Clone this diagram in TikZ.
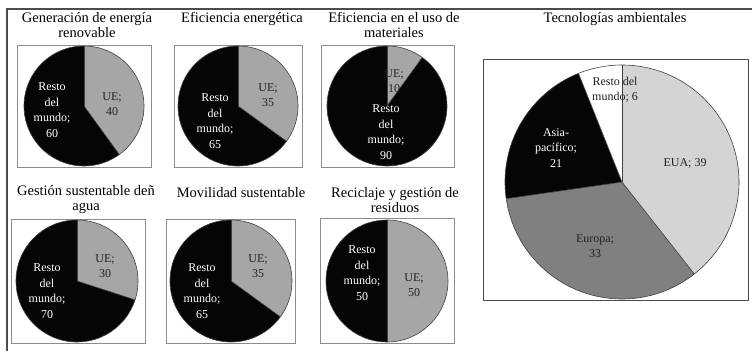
\documentclass[tikz,border=0pt]{standalone}
\usepackage{fontspec}
\setmainfont{Liberation Serif}
\definecolor{uegray}{HTML}{A6A6A6}
\definecolor{restblk}{HTML}{050505}
\definecolor{boxline}{HTML}{8C8C8C}
\definecolor{eualight}{HTML}{D4D4D4}
\definecolor{europagray}{HTML}{808080}
\definecolor{txtdark}{HTML}{222222}
\tikzset{
  boxframe/.style={draw=boxline,line width=0.9pt},
  pieline/.style={draw=black!75,line width=0.6pt},
  ttl/.style={font=\fontsize{14.5}{15}\selectfont,align=center,inner sep=0pt,text=black},
  lblw/.style={font=\fontsize{12}{15.5}\selectfont,align=center,inner sep=0pt,text=white},
  lbld/.style={font=\fontsize{12}{15.5}\selectfont,align=center,inner sep=0pt,text=txtdark},
}
\newcommand\uepie[4]{% cx, cy, r, UE value
  \pgfmathsetmacro\endang{90-3.6*#4}
  \fill[uegray] (#1,-#2) -- ++(90:#3) arc[start angle=90,end angle=\endang,radius=#3] -- cycle;
  \fill[restblk] (#1,-#2) -- ++(\endang:#3) arc[start angle=\endang,end angle=-270,radius=#3] -- cycle;
  \draw[pieline] (#1,-#2) circle[radius=#3];
  \draw[pieline] (#1,-#2) -- ++(90:#3);
  \draw[pieline] (#1,-#2) -- ++(\endang:#3);
}
\begin{document}
\begin{tikzpicture}[x=1pt,y=1pt]
\useasboundingbox (0,0) rectangle (752,-351);
% outer frame
\draw[draw=black!70,line width=1.2pt] (7,-351) -- (7,-9) -- (752,-9);

% small chart frames
\draw[boxframe] (17,-45) rectangle (151,-167);
\draw[boxframe] (174,-45) rectangle (302,-167);
\draw[boxframe] (321,-45) rectangle (454,-167);
\draw[boxframe] (11,-219) rectangle (145,-343);
\draw[boxframe] (166,-219) rectangle (295,-343);
\draw[boxframe] (320,-218) rectangle (454,-343);
% big chart frame
\draw[boxframe,draw=black!70] (483,-59) rectangle (748,-300);

% small pies
\uepie{84}{106}{60}{40}
\uepie{238}{106}{60}{35}
\uepie{387}{106}{60}{10}
\uepie{77}{281}{61}{30}
\uepie{231}{281}{61}{35}
\uepie{387}{281}{61}{50}

% big pie
\fill[eualight] (622,-182) -- ++(90:117) arc[start angle=90,end angle=-51.82,radius=117] -- cycle;
\fill[europagray] (622,-182) -- ++(-51.82:117) arc[start angle=-51.82,end angle=-171.82,radius=117] -- cycle;
\fill[restblk] (622,-182) -- ++(-171.82:117) arc[start angle=-171.82,end angle=-248.18,radius=117] -- cycle;
\fill[white] (622,-182) -- ++(-248.18:117) arc[start angle=-248.18,end angle=-270,radius=117] -- cycle;
\draw[pieline] (622,-182) circle[radius=117];
\foreach \a in {90,-51.82,-171.82,-248.18} \draw[pieline] (622,-182) -- ++(\a:117);

% titles
\node[ttl] (t1) at (87,-25) {Generación de energía\\renovable};
\node[ttl] (t2) at (242,-19) {Eficiencia energética};
\node[ttl] (t3) at (394,-25) {Eficiencia en el uso de\\materiales};
\node[ttl] (t4) at (86,-200) {Gestión sustentable deñ\\agua};
\node[ttl] (t5) at (241,-193) {Movilidad sustentable};
\node[ttl] (t6) at (395,-200) {Reciclaje y gestión de\\residuos};
\node[ttl] (t7) at (615,-19) {Tecnologías ambientales};

% labels small pies
\node[lblw] (r1) at (52,-110) {Resto\\del\\mundo;\\60};
\node[lbld] (u1) at (112,-104) {UE;\\40};
\node[lblw] (r2) at (215,-121) {Resto\\del\\mundo;\\65};
\node[lbld] (u2) at (268,-95) {UE;\\35};
\node[lbld] (u3) at (394,-81) {UE;\\10};
\node[lblw] (r3) at (386,-132) {Resto\\del\\mundo;\\90};
\node[lblw] (r4) at (47,-291) {Resto\\del\\mundo;\\70};
\node[lbld] (u4) at (105,-266) {UE;\\30};
\node[lblw] (r5) at (202,-291) {Resto\\del\\mundo;\\65};
\node[lbld] (u5) at (258,-266) {UE;\\35};
\node[lblw] (r6) at (362,-273) {Resto\\del\\mundo;\\50};
\node[lbld] (u6) at (414,-285) {UE;\\50};

% labels big pie
\node[lbld] (bR) at (615,-90) {Resto del\\mundo; 6};
\node[lblw] (bA) at (556,-148) {Asia-\\pacífico;\\21};
\node[lbld] (bE) at (685,-163) {EUA; 39};
\node[lbld] (bU) at (595,-246) {Europa;\\33};
\end{tikzpicture}
\end{document}
